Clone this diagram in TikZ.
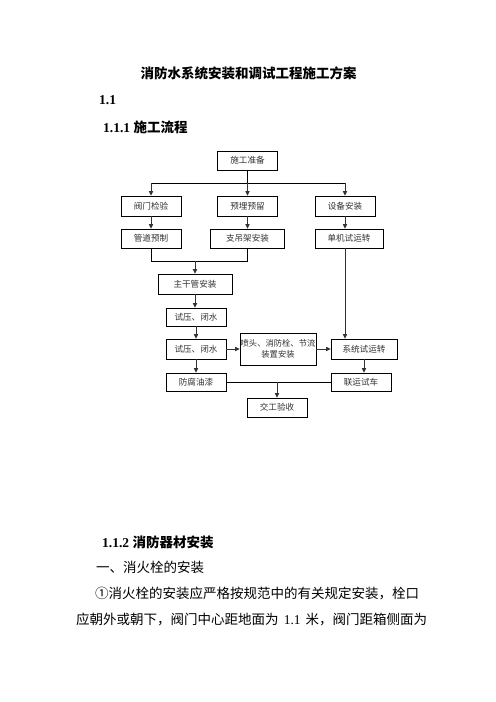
\documentclass[tikz,border=0pt]{standalone}
\usepackage{fontspec}
\setmainfont{Liberation Serif}
\newfontfamily\cjk{Noto Sans CJK SC}
\usetikzlibrary{arrows.meta}
\begin{document}
\begin{tikzpicture}[x=1bp,y=-1bp,
  box/.style={draw=black, line width=0.7bp, inner sep=0pt, align=center, text=black!80,
    font=\cjk\fontsize{8.6bp}{10.5bp}\selectfont},
  arr/.style={-{Triangle[length=4.5bp,width=4.2bp]}, line width=0.9bp, draw=black!80},
  ln/.style={line width=0.8bp, draw=black},
  txt/.style={inner sep=0pt, anchor=west, font=\fontsize{13.5bp}{16bp}\selectfont},
  head/.style={inner sep=0pt, anchor=west, font=\fontsize{13.5bp}{16bp}\selectfont\bfseries}]
\fill[white] (0,0) rectangle (496,702);
\useasboundingbox (0,0) rectangle (496,702);

% headings and text
\node[head, anchor=center] (title) at (248.5,73) {\cjk\bfseries 消防水系统安装和调试工程施工方案};
\node[head] (s11) at (99,100) {1.1};
\node[head] (s111) at (103,127) {1.1.1 {\cjk\bfseries 施工流程}};
\node[head] (s112) at (102,542) {1.1.2 {\cjk\bfseries 消防器材安装}};
\node[txt] (l1) at (96,567) {\cjk 一、消火栓的安装};
\node[txt] (l2) at (95,593) {\cjk ①消火栓的安装应严格按规范中的有关规定安装，栓口};
\node[txt] (l3) at (76,619) {\makebox[351bp][s]{{\cjk 应朝外或朝下，阀门中心距地面为} 1.1 {\cjk 米，阀门距箱侧面为}}};

% boxes
\node[box, minimum width=60bp, minimum height=19bp] (prep) at (247.5,160.5) {施工准备};
\node[box, minimum width=60bp, minimum height=20bp] (fmjy) at (151,206) {阀门检验};
\node[box, minimum width=60bp, minimum height=20bp] (ymyl) at (247.5,206) {预埋预留};
\node[box, minimum width=60bp, minimum height=20bp] (sbaz) at (345,206) {设备安装};
\node[box, minimum width=60bp, minimum height=19bp] (gdyz) at (151,238.5) {管道预制};
\node[box, minimum width=74bp, minimum height=19bp] (zdj) at (247.5,238.5) {支吊架安装};
\node[box, minimum width=68bp, minimum height=19bp] (djsy) at (349,238.5) {单机试运转};
\node[box, minimum width=74bp, minimum height=20bp] (zgg) at (195,284) {主干管安装};
\node[box, minimum width=60bp, minimum height=18bp] (sy1) at (196,317) {试压、闭水};
\node[box, minimum width=60bp, minimum height=20bp] (sy2) at (196,349) {试压、闭水};
\node[box, minimum width=76bp, minimum height=32bp, font=\cjk\fontsize{8.3bp}{10.5bp}\selectfont] (pt) at (278,349) {喷头、消防栓、节流\\装置安装};
\node[box, minimum width=66bp, minimum height=20bp] (xt) at (364,349) {系统试运转};
\node[box, minimum width=60bp, minimum height=18bp] (ff) at (196,382) {防腐油漆};
\node[box, minimum width=60bp, minimum height=18bp] (ly) at (361,382) {联运试车};
\node[box, minimum width=60bp, minimum height=19bp] (jg) at (277,407.5) {交工验收};

% connectors
\coordinate (h1) at (0,183);
\coordinate (h2) at (0,261);
\coordinate (vx) at (364,0);
\coordinate (jx) at (277,0);
\draw[ln] (prep.south) -- (prep.south |- h1);
\draw[ln] (fmjy.north |- h1) -- (sbaz.north |- h1);
\draw[arr] (fmjy.north |- h1) -- (fmjy.north);
\draw[arr] (prep.south |- h1) -- (ymyl.north);
\draw[arr] (sbaz.north |- h1) -- (sbaz.north);
\draw[arr] (fmjy.south) -- (gdyz.north);
\draw[arr] (ymyl.south) -- (zdj.north);
\draw[arr] (sbaz.south) -- (sbaz.south |- djsy.north);
\draw[ln] (gdyz.south) -- (gdyz.south |- h2) -- (zdj.south |- h2) -- (zdj.south);
\draw[arr] (zgg.north |- h2) -- (zgg.north);
\draw[arr] (zgg.south) -- (zgg.south |- sy1.north);
\draw[arr] (sy1.south) -- (sy2.north);
\draw[arr] (sy2.east) -- (sy2.east -| pt.west);
\draw[arr] (pt.east) -- (pt.east -| xt.west);
\draw[arr] (sbaz.south |- djsy.south) -- (sbaz.south |- xt.north);
\draw[arr] (sy2.south) -- (ff.north);
\draw[arr] (vx |- xt.south) -- (vx |- ly.north);
\draw[ln] (ff.east) -- (ly.west);
\draw[arr] (jx |- ff.east) -- (jg.north);
\end{tikzpicture}
\end{document}
